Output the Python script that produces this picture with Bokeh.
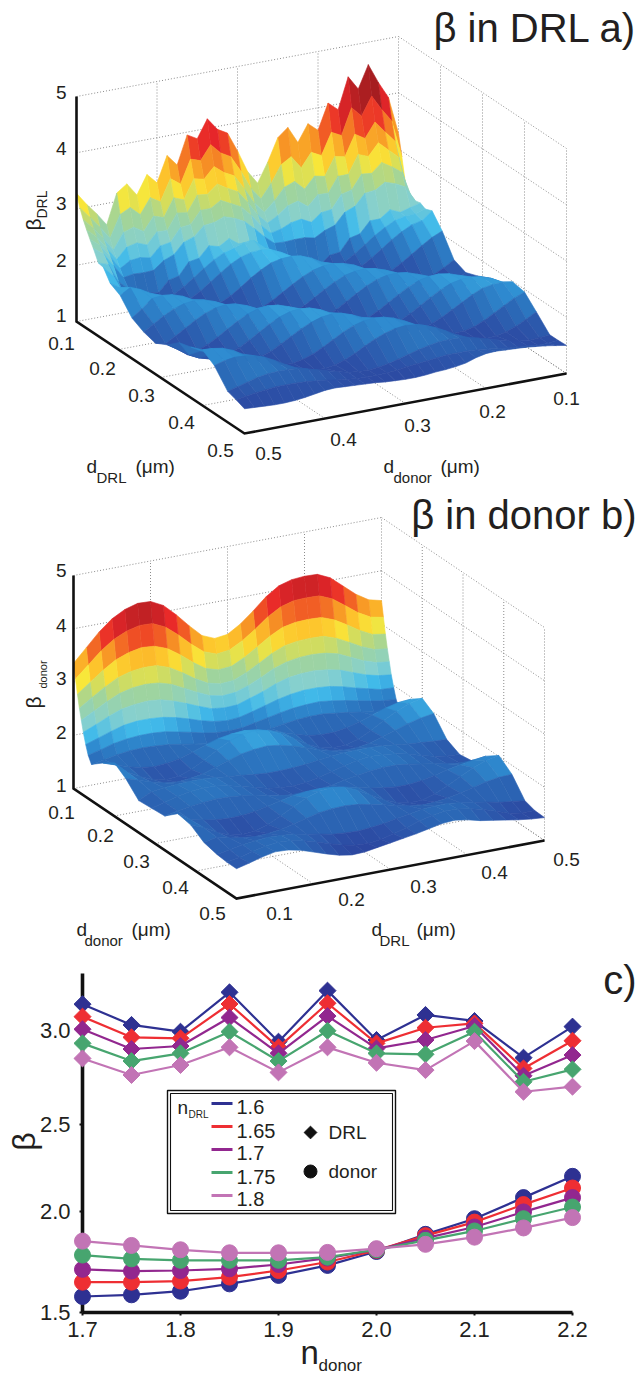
import math
from bokeh.plotting import figure
from bokeh.layouts import column
from bokeh.models import Range1d, LinearAxis, FixedTicker
from bokeh.core.properties import value
from bokeh.embed import file_html
from bokeh.resources import INLINE

FONT = "Liberation Sans"
INK = "#231f20"

# ---------- panel a: beta in DRL, rows = d_DRL (um), columns = d_donor (um)
a_drl = [.100,.108,.116,.124,.132,.140,.152,.164,.180,.204,.232,.260,.288,.316,.344,.372,.400,.428,.460,.480,.500]
a_donor = [0.5 - 0.0125 * i for i in range(33)]
a00 = [3.28,3.05,2.85,2.62,3.15,3.28,3.05,3.38,3.2,3.65,3.45,3.95,3.85,4.17,3.95,3.85,3.5,3.1,2.86,3.2,3.6,3.75,3.45,3.75,3.6,4.05,3.9,4.45,4.2,4.6,4.25,3.95,3.28]
a01 = [3.06,2.86,2.65,2.42,2.81,2.90,2.74,3.01,2.90,3.28,3.15,3.56,3.50,3.75,3.57,3.47,3.18,2.84,2.62,2.86,3.16,3.27,3.04,3.28,3.19,3.57,3.48,3.94,3.76,4.08,3.81,3.57,2.90]
a02 = [2.89,2.71,2.49,2.25,2.53,2.59,2.48,2.72,2.66,2.98,2.91,3.25,3.21,3.40,3.26,3.17,2.91,2.62,2.42,2.59,2.80,2.87,2.70,2.90,2.86,3.18,3.14,3.51,3.40,3.66,3.45,3.25,2.50]
a03 = [2.75,2.59,2.36,2.12,2.31,2.35,2.28,2.48,2.47,2.75,2.72,3.00,2.98,3.13,3.02,2.93,2.71,2.45,2.27,2.37,2.51,2.56,2.43,2.61,2.60,2.87,2.87,3.19,3.12,3.33,3.17,3.01,2.30]
a04 = [2.62,2.48,2.25,2.00,2.11,2.13,2.09,2.27,2.30,2.53,2.55,2.77,2.77,2.88,2.79,2.70,2.52,2.30,2.13,2.17,2.25,2.28,2.19,2.33,2.35,2.59,2.63,2.88,2.86,3.02,2.91,2.78,2.28]
a05 = [2.50,2.37,2.13,1.88,1.91,1.90,1.91,2.05,2.12,2.31,2.37,2.54,2.56,2.63,2.57,2.48,2.32,2.14,1.99,1.98,1.99,1.99,1.95,2.05,2.11,2.31,2.38,2.58,2.60,2.71,2.65,2.56,2.28]
a06 = [2.30,2.24,1.90,1.74,1.55,1.60,1.57,1.76,1.80,2.02,2.05,2.24,2.19,2.30,2.17,2.19,1.98,1.95,1.72,1.71,1.54,1.59,1.52,1.67,1.69,1.91,1.95,2.15,2.15,2.28,2.20,2.25,2.30]
a07 = [2.28,2.10,1.75,1.63,1.55,1.50,1.51,1.57,1.67,1.80,1.93,2.05,2.14,2.19,2.25,2.25,2.10,1.98,1.85,1.72,1.62,1.54,1.50,1.52,1.58,1.69,1.82,1.95,2.06,2.15,2.19,2.20,2.25]
a08 = [2.08,1.97,1.84,1.72,1.60,1.52,1.47,1.48,1.54,1.64,1.77,1.90,2.02,2.11,2.16,2.17,2.14,2.06,1.95,1.82,1.69,1.59,1.50,1.47,1.49,1.55,1.66,1.79,1.92,2.03,2.12,2.16,2.30]
a09 = [1.98,2.09,2.02,1.92,1.80,1.68,1.57,1.49,1.45,1.46,1.52,1.61,1.73,1.86,1.97,2.06,2.10,2.11,2.08,2.01,1.91,1.78,1.66,1.56,1.48,1.45,1.47,1.53,1.63,1.75,1.87,1.98,2.06]
a10 = [1.72,1.85,2.00,2.02,2.00,1.94,1.85,1.74,1.63,1.53,1.46,1.42,1.43,1.48,1.57,1.68,1.79,1.89,1.97,2.01,2.02,1.99,1.93,1.83,1.72,1.61,1.52,1.45,1.42,1.44,1.49,1.58,1.69]
a11 = [1.61,1.72,1.83,1.92,1.98,2.00,1.98,1.92,1.83,1.72,1.61,1.51,1.44,1.40,1.41,1.46,1.55,1.66,1.77,1.87,1.95,1.99,2.00,1.97,1.91,1.81,1.70,1.59,1.50,1.43,1.40,1.50,1.60]
a12 = [1.55,1.51,1.61,1.72,1.83,1.92,1.98,2.00,1.98,1.92,1.83,1.72,1.61,1.51,1.44,1.40,1.41,1.46,1.55,1.66,1.77,1.87,1.95,1.99,2.00,1.97,1.91,1.81,1.70,1.59,1.50,1.55,1.68]
a13 = [1.66,1.55,1.42,1.46,1.53,1.63,1.74,1.85,1.94,2.00,2.02,2.00,1.94,1.85,1.74,1.63,1.53,1.46,1.42,1.43,1.48,1.57,1.68,1.79,1.89,1.97,2.01,2.02,1.99,1.93,1.83,1.78,1.78]
a14 = [1.84,1.59,1.50,1.45,1.44,1.48,1.55,1.65,1.76,1.87,1.96,2.02,2.04,2.02,1.96,1.87,1.76,1.65,1.55,1.48,1.44,1.45,1.50,1.59,1.70,1.81,1.91,1.99,2.03,2.04,2.01,1.95,1.85]
a15 = [1.90,1.80,1.70,1.60,1.52,1.47,1.46,1.50,1.56,1.66,1.76,1.86,1.94,2.00,2.02,2.00,1.94,1.86,1.76,1.66,1.56,1.50,1.46,1.47,1.52,1.60,1.70,1.80,1.90,1.98,2.01,2.02,1.99]
a16 = [1.99,1.98,1.95,1.88,1.78,1.68,1.58,1.50,1.46,1.45,1.49,1.55,1.64,1.74,1.84,1.92,1.97,1.99,1.97,1.92,1.84,1.74,1.64,1.55,1.49,1.45,1.46,1.50,1.58,1.68,1.78,1.88,1.95]
a17 = [1.85,1.90,1.93,1.92,1.89,1.83,1.74,1.64,1.55,1.48,1.44,1.43,1.46,1.52,1.60,1.70,1.79,1.86,1.91,1.93,1.91,1.86,1.79,1.70,1.60,1.52,1.46,1.43,1.44,1.48,1.55,1.64,1.74]
a18 = [1.55,1.60,1.65,1.70,1.73,1.74,1.74,1.72,1.68,1.63,1.58,1.53,1.49,1.47,1.46,1.48,1.51,1.56,1.61,1.66,1.70,1.73,1.74,1.73,1.70,1.66,1.61,1.56,1.51,1.48,1.46,1.47,1.49]
a19 = [1.50,1.53,1.56,1.58,1.60,1.60,1.60,1.59,1.57,1.55,1.52,1.50,1.48,1.47,1.47,1.48,1.49,1.52,1.54,1.56,1.58,1.60,1.60,1.60,1.59,1.57,1.55,1.52,1.50,1.49,1.47,1.47,1.49]
a20 = [1.44,1.43,1.42,1.41,1.41,1.42,1.44,1.47,1.50,1.51,1.50,1.49,1.48,1.47,1.45,1.44,1.43,1.43,1.44,1.46,1.47,1.49,1.52,1.58,1.62,1.63,1.62,1.61,1.60,1.58,1.56,1.53,1.50]
a_rows = [a00,a01,a02,a03,a04,a05,a06,a07,a08,a09,a10,a11,a12,a13,a14,a15,a16,a17,a18,a19,a20]

# ---------- panel b: beta in donor, rows = d_donor (um), columns = d_DRL (um)
b_donor = [.1,.1048,.1096,.1144,.1192,.124,.13,.136,.144,.172,.2,.228,.26,.292,.324,.356,.388,.42,.452,.476,.5]
b_drl = [0.1 + 0.4 * i / 24 for i in range(25)]
b00 = [3.35,3.6,3.85,4.05,4.18,4.25,4.24,4.12,3.9,3.65,3.42,3.32,3.35,3.5,3.7,3.92,4.08,4.15,4.17,4.16,4.05,3.85,3.65,3.5,3.44]
b01 = [3.08,3.30,3.52,3.69,3.80,3.86,3.85,3.74,3.55,3.33,3.14,3.05,3.08,3.21,3.38,3.57,3.71,3.78,3.79,3.78,3.68,3.51,3.33,3.20,3.15]
b02 = [2.82,3.00,3.18,3.33,3.42,3.47,3.45,3.36,3.20,3.01,2.85,2.78,2.80,2.92,3.07,3.23,3.35,3.40,3.41,3.40,3.31,3.17,3.02,2.90,2.86]
b03 = [2.58,2.74,2.89,3.02,3.09,3.12,3.11,3.03,2.89,2.73,2.60,2.54,2.56,2.66,2.79,2.93,3.03,3.07,3.08,3.07,2.99,2.87,2.74,2.64,2.61]
b04 = [2.38,2.51,2.64,2.75,2.81,2.83,2.81,2.74,2.62,2.50,2.39,2.34,2.36,2.44,2.55,2.67,2.75,2.79,2.80,2.78,2.72,2.61,2.50,2.42,2.39]
b05 = [2.18,2.28,2.39,2.48,2.52,2.54,2.52,2.45,2.36,2.26,2.17,2.14,2.15,2.23,2.31,2.41,2.48,2.51,2.52,2.49,2.44,2.35,2.26,2.20,2.17]
b06 = [1.98,2.06,2.14,2.21,2.24,2.24,2.22,2.17,2.10,2.02,1.96,1.93,1.95,2.01,2.08,2.15,2.20,2.23,2.23,2.21,2.16,2.09,2.03,1.97,1.96]
b07 = [1.81,1.87,1.94,1.98,2.00,2.00,1.98,1.93,1.88,1.82,1.78,1.77,1.78,1.83,1.88,1.93,1.97,1.99,2.00,1.97,1.93,1.88,1.83,1.79,1.77]
b08 = [1.68,1.72,1.77,1.80,1.81,1.80,1.78,1.74,1.70,1.66,1.64,1.63,1.64,1.68,1.72,1.76,1.79,1.81,1.81,1.78,1.75,1.71,1.67,1.64,1.63]
b09 = [1.85,1.77,1.69,1.63,1.60,1.62,1.66,1.74,1.82,1.90,1.94,1.96,1.93,1.87,1.79,1.71,1.64,1.61,1.61,1.65,1.72,1.80,1.88,1.94,1.96]
b10 = [2.00,1.78,1.65,1.55,1.50,1.52,1.60,1.73,1.87,2.00,2.08,2.10,2.05,1.95,1.82,1.67,1.56,1.51,1.51,1.58,1.70,1.84,1.97,2.07,2.12]
b11 = [1.85,1.77,1.69,1.63,1.60,1.62,1.66,1.74,1.82,1.90,1.94,1.96,1.93,1.87,1.79,1.71,1.64,1.61,1.61,1.65,1.72,1.80,1.88,1.94,1.98]
b12 = [1.60,1.72,1.75,1.77,1.78,1.78,1.76,1.73,1.71,1.68,1.66,1.66,1.67,1.69,1.72,1.75,1.77,1.78,1.78,1.76,1.74,1.71,1.69,1.67,1.66]
b13 = [1.62,1.69,1.75,1.80,1.82,1.81,1.77,1.71,1.65,1.59,1.55,1.54,1.56,1.61,1.67,1.74,1.79,1.82,1.81,1.78,1.73,1.66,1.60,1.56,1.54]
b14 = [1.64,1.69,1.73,1.76,1.78,1.77,1.75,1.70,1.66,1.61,1.59,1.58,1.60,1.63,1.68,1.72,1.76,1.78,1.78,1.75,1.71,1.67,1.62,1.59,1.58]
b15 = [1.85,1.69,1.64,1.60,1.58,1.59,1.62,1.67,1.73,1.78,1.81,1.82,1.80,1.76,1.71,1.65,1.61,1.58,1.58,1.61,1.66,1.72,1.77,1.81,1.84]
b16 = [1.80,1.71,1.58,1.48,1.44,1.46,1.54,1.66,1.78,1.90,1.98,2.00,1.96,1.86,1.73,1.60,1.50,1.45,1.45,1.52,1.63,1.76,1.88,1.97,2.02]
b17 = [1.64,1.69,1.63,1.59,1.57,1.58,1.61,1.67,1.73,1.79,1.82,1.83,1.81,1.76,1.71,1.65,1.60,1.57,1.58,1.61,1.66,1.72,1.78,1.82,1.83]
b18 = [1.58,1.62,1.67,1.70,1.72,1.71,1.69,1.64,1.60,1.55,1.53,1.52,1.54,1.57,1.62,1.66,1.70,1.72,1.72,1.69,1.65,1.61,1.56,1.53,1.50]
b19 = [1.56,1.60,1.67,1.72,1.75,1.74,1.69,1.62,1.54,1.47,1.42,1.41,1.44,1.50,1.57,1.65,1.71,1.75,1.74,1.70,1.64,1.56,1.48,1.44,1.44]
b20 = [1.56,1.62,1.69,1.74,1.73,1.68,1.60,1.52,1.45,1.41,1.42,1.46,1.50,1.54,1.58,1.63,1.68,1.70,1.66,1.60,1.56,1.52,1.48,1.45,1.43]
b_rows = [b00,b01,b02,b03,b04,b05,b06,b07,b08,b09,b10,b11,b12,b13,b14,b15,b16,b17,b18,b19,b20]

# ---------- panel c
n_donor = [1.7,1.75,1.8,1.85,1.9,1.95,2.0,2.05,2.1,2.15,2.2]
n_drl_labels = ["1.6","1.65","1.7","1.75","1.8"]
drl_16 = [3.137,3.027,2.991,3.20,2.938,3.209,2.947,3.08,3.048,2.853,3.018]
drl_165 = [3.071,2.961,2.956,3.138,2.908,3.142,2.929,3.012,3.035,2.796,2.943]
drl_17 = [3.004,2.899,2.915,3.066,2.876,3.074,2.902,2.947,3.021,2.757,2.867]
drl_175 = [2.929,2.835,2.876,2.991,2.835,2.996,2.876,2.871,2.991,2.725,2.791]
drl_18 = [2.849,2.761,2.814,2.908,2.775,2.908,2.826,2.787,2.941,2.672,2.699]
don_16 = [1.585,1.594,1.613,1.652,1.697,1.75,1.824,1.915,1.998,2.11,2.223]
don_165 = [1.661,1.661,1.667,1.688,1.723,1.768,1.83,1.908,1.98,2.073,2.161]
don_17 = [1.729,1.72,1.723,1.732,1.755,1.789,1.833,1.895,1.954,2.034,2.11]
don_175 = [1.805,1.785,1.777,1.777,1.777,1.794,1.833,1.883,1.933,1.998,2.06]
don_18 = [1.879,1.856,1.833,1.817,1.817,1.819,1.839,1.862,1.90,1.949,2.004]
series_colors = ["#2e3192","#ee2e33","#92278f","#47a56f","#c274b5"]

STOPS = [(1.3,"#2b3a96"),(1.5,"#2c4fa6"),(1.75,"#2b6db9"),(1.95,"#2f8ed2"),(2.12,"#42bbea"),(2.35,"#86d0cf"),
         (2.7,"#a0d49c"),(2.95,"#d4dd5c"),(3.05,"#f8e73a"),(3.25,"#fdc42c"),(3.45,"#f79325"),(3.65,"#ef4a25"),
         (3.85,"#e8262a"),(4.2,"#a31d20"),(4.6,"#7d1a1a")]

def jet(z):
    if z <= STOPS[0][0]:
        return STOPS[0][1]
    for (z0, c0), (z1, c1) in zip(STOPS, STOPS[1:]):
        if z <= z1:
            t = (z - z0) / (z1 - z0)
            rgb = [round(int(c0[i:i+2],16)*(1-t) + int(c1[i:i+2],16)*t) for i in (1,3,5)]
            return "#%02x%02x%02x" % tuple(rgb)
    return STOPS[-1][1]

def text(p, x, y, s, size, align="left", angle=0.0, color=INK, base="middle"):
    p.text(x=[x], y=[y], text=[s], text_font=value(FONT), text_font_size=f"{size}px", text_align=align,
           text_baseline=base, angle=angle, text_color=color, level="overlay")

W = 640
top = figure(width=W, height=955, x_range=Range1d(82, 572), y_range=Range1d(955, 0), output_backend="svg",
             toolbar_location=None, min_border_left=82, min_border_right=68, min_border_top=0, min_border_bottom=0,
             outline_line_color=None)
top.axis.visible = False
top.grid.visible = False

def box3d(p, left, e_row, e_col, zs, row_ticks, col_ticks, rows, cols, table):
    row0, row1 = rows[0], rows[-1]
    col0, col1 = cols[0], cols[-1]
    def P(rv, cv, z):
        a = (rv - row0) / (row1 - row0)
        b = (cv - col0) / (col1 - col0)
        return (left[0] + a*e_row[0] + b*e_col[0], left[1] + a*e_row[1] + b*e_col[1] - zs*(z - 1))
    gx, gy = [], []
    def g(p0, p1):
        gx.append([p0[0], p1[0]]); gy.append([p0[1], p1[1]])
    for z in (1,2,3,4,5):
        g(P(row0,col0,z), P(row0,col1,z)); g(P(row0,col1,z), P(row1,col1,z))
    for cv in col_ticks:
        g(P(row0,cv,1), P(row0,cv,5)); g(P(row0,cv,1), P(row1,cv,1))
    for rv in row_ticks:
        g(P(rv,col1,1), P(rv,col1,5)); g(P(rv,col0,1), P(rv,col1,1))
    p.multi_line(gx, gy, line_color="#7f7f7f", line_width=0.9, line_dash="1 2", level="overlay")
    quads = []
    for i in range(len(rows)-1):
        for j in range(len(cols)-1):
            zz = [table[i][j], table[i][j+1], table[i+1][j+1], table[i+1][j]]
            pts = [P(rows[i],cols[j],zz[0]), P(rows[i],cols[j+1],zz[1]), P(rows[i+1],cols[j+1],zz[2]), P(rows[i+1],cols[j],zz[3])]
            base = P(rows[i],cols[j],1)[1] + P(rows[i+1],cols[j+1],1)[1]
            quads.append((base, [q[0] for q in pts], [q[1] for q in pts], jet(sum(zz)/4)))
    quads.sort(key=lambda q: q[0])
    cs = [q[3] for q in quads]
    p.patches([q[1] for q in quads], [q[2] for q in quads], fill_color=cs, line_color=cs, line_width=0.6, level="overlay")
    ax = [P(row0,col0,5), P(row0,col0,1), P(row1,col0,1), P(row1,col1,1)]
    p.line([q[0] for q in ax], [q[1] for q in ax], line_color="#111111", line_width=2.6, line_join="miter", level="overlay")

# panel a
box3d(top, (76,321), (168,112), (322,-60), 56.25, [.2,.3,.4,.5], [.4,.3,.2,.1], a_drl, a_donor, a_rows)
# panel b
box3d(top, (73,788), (163,110), (308,-58), 53.25, [.2,.3,.4,.5], [.2,.3,.4,.5], b_donor, b_drl, b_rows)

text(top, 636, 27, "\u03b2 in DRL a)", 40, "right")
text(top, 636, 514, "\u03b2 in donor b)", 40, "right")

for s, y in zip("54321", (92,148,203,260,315)):
    text(top, 66, y, s, 19, "right")
for s, y in zip("54321", (570,625,678,732,785)):
    text(top, 66, y, s, 19, "right")
thick = ["0.1","0.2","0.3","0.4","0.5"]
for s, (x,y) in zip(thick, [(61,343),(102,368),(141,395),(181,422),(220,450)]):
    text(top, x, y, s, 19, "center")
for s, (x,y) in zip(thick, [(566,398),(492,411),(417,425),(343,439),(268,453)]):
    text(top, x, y, s, 19, "center")
for s, (x,y) in zip(thick, [(61,812),(100,835),(136,861),(175,887),(212,913)]):
    text(top, x, y, s, 19, "center")
for s, (x,y) in zip(thick, [(279,913),(351,899),(423,886),(494,872),(566,859)]):
    text(top, x, y, s, 19, "center")

rot = math.pi/2
text(top, 33, 224, "\u03b2", 21, "center", rot)
text(top, 41, 204, "DRL", 14, "center", rot)
text(top, 33, 702, "\u03b2", 21, "center", rot)
text(top, 42, 674, "donor", 11, "center", rot)

def dlabel(x, y, sub, xsub, xunit):
    text(top, x, y, "d", 19)
    text(top, xsub, y+11, sub, 15)
    text(top, xunit, y, "(\u03bcm)", 19)
dlabel(86, 466, "DRL", 96, 135)
dlabel(383, 466, "donor", 393, 440)
dlabel(76, 929, "donor", 84, 131)
dlabel(371, 929, "DRL", 379, 416)

# panel c
c = figure(width=W, height=420, x_range=Range1d(1.7, 2.2), y_range=Range1d(1.5, 3.3), output_backend="svg",
           toolbar_location=None, min_border_left=82, min_border_right=68, min_border_top=18, min_border_bottom=63,
           outline_line_color=None, x_axis_location=None, y_axis_location=None)
c.grid.visible = False
ytick_vals = [1.5, 2.036, 2.5, 3.0]
xax = LinearAxis(ticker=FixedTicker(ticks=[1.7,1.8,1.9,2.0,2.1,2.2], minor_ticks=[1.75,1.85,1.95,2.05,2.15]),
                 major_label_overrides={1.7:"1.7",1.8:"1.8",1.9:"1.9",2.0:"2.0",2.1:"2.1",2.2:"2.2"})
yax = LinearAxis(ticker=FixedTicker(ticks=ytick_vals),
                 major_label_overrides={1.5:"1.5",2.036:"2.0",2.5:"2.5",3.0:"3.0"})
for ax in (xax, yax):
    ax.axis_line_color = "#111111"; ax.axis_line_width = 3.6
    ax.major_tick_in = 0; ax.major_tick_out = 3; ax.major_tick_line_width = 2; ax.major_tick_line_color = "#111111"
    ax.minor_tick_in = 0; ax.minor_tick_out = 0
    ax.major_label_text_font = FONT; ax.major_label_text_font_size = "22px"; ax.major_label_text_color = INK
xax.major_label_standoff = 6
yax.major_label_standoff = 9
c.add_layout(xax, "below")
c.add_layout(yax, "left")

def fx(px): return 1.7 + (px - 82) / 980
def fy(py): return 1.5 + (1312 - py) / 188.33

drl_all = [drl_16, drl_165, drl_17, drl_175, drl_18]
don_all = [don_16, don_165, don_17, don_175, don_18]
for ys, col in zip(drl_all, series_colors):
    c.line(n_donor, ys, line_color=col, line_width=2.2, level="overlay")
    c.scatter(n_donor, ys, marker="square", angle=math.pi/4, size=12, fill_color=col, line_color=col, level="overlay")
for ys, col in zip(don_all, series_colors):
    c.line(n_donor, ys, line_color=col, line_width=2.2, level="overlay")
    c.scatter(n_donor, ys, marker="circle", size=16, fill_color=col, line_color=col, level="overlay")

# legend
def rect(x0, y0, x1, y1, lw):
    c.quad(left=[fx(x0)], right=[fx(x1)], top=[fy(y0)], bottom=[fy(y1)], fill_color="white" if lw > 1.2 else None,
           line_color="#111111", line_width=lw, level="overlay")
rect(167, 1090, 395, 1213, 1.4)
rect(170, 1093, 392, 1210, 1.1)
for s, col, yl, yt in zip(n_drl_labels, series_colors, (1103,1126,1149,1172,1195), (1107,1131,1153,1177,1199)):
    c.line([fx(211), fx(232)], [fy(yl), fy(yl)], line_color=col, line_width=3, level="overlay")
    text(c, fx(236), fy(yt), s, 20)
text(c, fx(177), fy(1107), "n", 19)
text(c, fx(188), fy(1114), "DRL", 10)
c.scatter([fx(310)], [fy(1132)], marker="square", angle=math.pi/4, size=9, fill_color="#111111", line_color="#111111", level="overlay")
text(c, fx(328), fy(1132), "DRL", 19)
c.scatter([fx(310)], [fy(1171)], marker="circle", size=13, fill_color="#111111", line_color="#111111", level="overlay")
text(c, fx(328), fy(1171), "donor", 19)

text(c, fx(636), fy(980), "c)", 40, "right")
text(c, fx(23), fy(1141), "\u03b2", 32, "center", rot)
text(c, fx(300), fy(1352), "n", 33)
text(c, fx(318), fy(1365), "donor", 17)

p = column(top, c, spacing=0)
open("out.html", "w").write(file_html(p, INLINE))
